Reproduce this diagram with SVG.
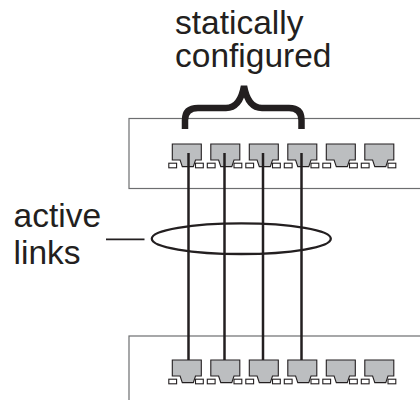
<svg xmlns="http://www.w3.org/2000/svg" width="420" height="400" viewBox="0 0 420 400">
  <style>
    .lbl { font-family: "Liberation Sans", Arial, sans-serif; font-size: 33.5px; fill: #231f20; }
    .box { fill: #ffffff; stroke: #6d6e70; stroke-width: 1.2; }
    .body { fill: #bcbec0; stroke: #231f20; stroke-width: 1.1; }
    .foot { fill: #ffffff; stroke: #231f20; stroke-width: 1.1; }
    .link { stroke: #231f20; stroke-width: 2.5; fill: none; }
  </style>
  <defs>
    <g id="port">
      <path class="body" d="M0,0 H29 V16 H23.2 L21,22.6 H10 L7.8,16 H0 Z"/>
      <rect class="foot" x="-3.5" y="19.2" width="7.8" height="4.6"/>
      <rect class="foot" x="23.2" y="19.2" width="7.8" height="4.6"/>
    </g>
  </defs>

  <g id="switch-top">
    <rect class="box" x="129" y="118.5" width="300" height="70"/>
    <use href="#port" x="172.3" y="144"/>
    <use href="#port" x="210.8" y="144"/>
    <use href="#port" x="249.3" y="144"/>
    <use href="#port" x="287.8" y="144"/>
    <use href="#port" x="326.3" y="144"/>
    <use href="#port" x="364.8" y="144"/>
  </g>

  <g id="switch-bottom">
    <rect class="box" x="129" y="336" width="300" height="80"/>
    <use href="#port" x="172.3" y="360"/>
    <use href="#port" x="210.8" y="360"/>
    <use href="#port" x="249.3" y="360"/>
    <use href="#port" x="287.8" y="360"/>
    <use href="#port" x="326.3" y="360"/>
    <use href="#port" x="364.8" y="360"/>
  </g>

  <g id="connectors">
    <line class="link" x1="188.5" y1="153" x2="188.5" y2="360"/>
    <line class="link" x1="224.5" y1="153" x2="224.5" y2="360"/>
    <line class="link" x1="263" y1="153" x2="263" y2="360"/>
    <line class="link" x1="301.5" y1="153" x2="301.5" y2="360"/>
  </g>

  <g id="brace">
    <path d="M185,129 V120 Q185,108 198,108 H226 Q240,108 244,86 Q248,108 262,108 H289 Q301.5,108 301.5,120 V129" fill="none" stroke="#231f20" stroke-width="6.5" stroke-linejoin="miter"/>
  </g>

  <g id="label-static">
    <text class="lbl" x="175" y="33.5">statically</text>
    <text class="lbl" x="175" y="67">configured</text>
  </g>

  <g id="active-links">
    <ellipse cx="241.3" cy="238.7" rx="89.5" ry="15.3" fill="none" stroke="#231f20" stroke-width="2.3"/>
    <line x1="106" y1="239.3" x2="144.5" y2="239.3" stroke="#231f20" stroke-width="1.8"/>
    <text class="lbl" x="13.5" y="226.5">active</text>
    <text class="lbl" x="13.5" y="264">links</text>
  </g>
</svg>
